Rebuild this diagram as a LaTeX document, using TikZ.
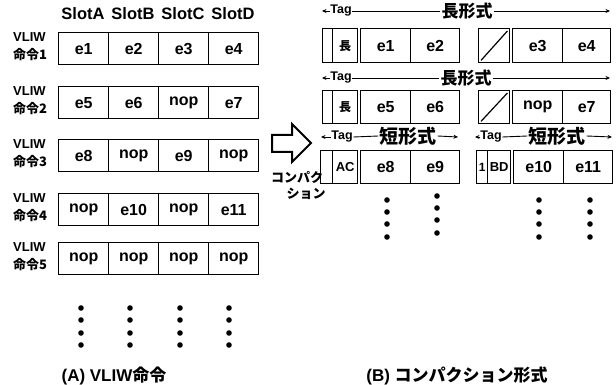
\documentclass[tikz,border=0pt]{standalone}
\usepackage{fontspec}
\setmainfont{Liberation Sans}
\newfontfamily\jp{Noto Sans CJK JP}
\usetikzlibrary{arrows.meta}
\tikzset{
  cellbox/.style={draw, line width=1.4pt, minimum height=#1, inner sep=0pt, anchor=north west,
    font=\fontsize{16}{16}\selectfont\bfseries},
  cellbox/.default=32pt,
  hdr/.style={font=\fontsize{16.5}{16.5}\selectfont\bfseries, inner sep=0pt},
  vl/.style={font=\fontsize{13}{13}\selectfont\bfseries, inner sep=0pt, anchor=west},
  jl/.style={font=\jp\fontsize{13}{13}\selectfont\bfseries, inner sep=0pt, anchor=west},
  taglab/.style={font=\fontsize{12.5}{12.5}\selectfont\bfseries, inner sep=0.5pt},
  fmtlab/.style={font=\jp\fontsize{17}{17}\selectfont\bfseries, inner sep=1pt},
  dimline/.style={line width=0.9pt},
  dimarrow/.style={line width=0.9pt, -{Stealth[length=4.5pt,width=4pt]}},
  dotm/.style={fill=black, circle, inner sep=0pt, minimum size=5.6pt},
  captxt/.style={font=\fontsize{17}{17}\selectfont\bfseries, inner sep=0pt},
}
\begin{document}
\begin{tikzpicture}[x=1pt,y=-1pt]
\useasboundingbox (0,0) rectangle (616,385);

% ---- Left: VLIW instructions ----
\foreach \s [count=\i from 0] in {SlotA,SlotB,SlotC,SlotD}
  \node[hdr] (h\i) at (83+50*\i,14) {\s};

\foreach \r/\t/\a/\b/\c/\d in {1/32/e1/e2/e3/e4, 2/86/e5/e6/nop/e7, 3/139/e8/nop/e9/nop, 4/193/nop/e10/nop/e11, 5/242/nop/nop/nop/nop}{
  \node[cellbox, minimum width=50pt] (L\r a) at (58,\t) {\a};
  \node[cellbox, minimum width=50pt] (L\r b) at (108,\t) {\b};
  \node[cellbox, minimum width=50pt] (L\r c) at (158,\t) {\c};
  \node[cellbox, minimum width=50pt] (L\r d) at (208,\t) {\d};
  \node[vl] (V\r) at (13,\t+5) {VLIW};
  \node[jl] (M\r) at (13,\t+23) {命令\r};
}

\foreach \x in {81,130,180,229}
  \foreach \y in {308,320,333,345}
    \node[dotm] at (\x,\y) {};

\node[captxt] (capA) at (114,376) {(A) VLIW{\jp 命令}};

% ---- Block arrow ----
\draw[line width=2pt, line join=miter] (272,135) -- (292,135) -- (292,124) -- (311,143) -- (292,162) -- (292,152) -- (272,152) -- cycle;
\node[jl, anchor=center] (cp1) at (297,177) {コンパク};
\node[jl, anchor=center] (cp2) at (306,194) {ション};

% ---- Right: compaction format ----
% Row 1
\node[cellbox=34pt, minimum width=10pt] (R1t0) at (322,28) {};
\node[cellbox=34pt, minimum width=25pt, font=\jp\fontsize{12}{12}\selectfont\bfseries] (R1t1) at (332,28) {長};
\node[cellbox=34pt, minimum width=50pt] (R1a) at (360,28) {e1};
\node[cellbox=34pt, minimum width=49pt] (R1b) at (410,28) {e2};
\node[cellbox=34pt, minimum width=31pt] (R1s) at (478,28) {};
\draw[line width=1.2pt] ([shift={(3pt,3pt)}]R1s.south west) -- ([shift={(-3pt,-3pt)}]R1s.north east);
\node[cellbox=34pt, minimum width=50pt] (R1c) at (512,28) {e3};
\node[cellbox=34pt, minimum width=48pt] (R1d) at (562,28) {e4};

\node[taglab] (T1) at (341,11) {Tag};
\node[fmtlab] (F1) at (467,11) {長形式};
\coordinate (T1l) at (322,11);
\coordinate (T1r) at (610,11);
\draw[dimarrow] (T1.west) -- (T1l);
\draw[dimline] (T1.east) -- (F1.west);
\draw[dimarrow] (F1.east) -- (T1r);

% Row 2
\node[cellbox=33pt, minimum width=10pt] (R2t0) at (322,90) {};
\node[cellbox=33pt, minimum width=25pt, font=\jp\fontsize{12}{12}\selectfont\bfseries] (R2t1) at (332,90) {長};
\node[cellbox=33pt, minimum width=50pt] (R2a) at (360,90) {e5};
\node[cellbox=33pt, minimum width=49pt] (R2b) at (410,90) {e6};
\node[cellbox=33pt, minimum width=31pt] (R2s) at (478,90) {};
\draw[line width=1.2pt] ([shift={(3pt,3pt)}]R2s.south west) -- ([shift={(-3pt,-3pt)}]R2s.north east);
\node[cellbox=33pt, minimum width=50pt] (R2c) at (512,90) {nop};
\node[cellbox=33pt, minimum width=48pt] (R2d) at (562,90) {e7};

\node[taglab] (T2) at (341,78) {Tag};
\node[fmtlab] (F2) at (466,78) {長形式};
\coordinate (T2l) at (322,78);
\coordinate (T2r) at (610,78);
\draw[dimarrow] (T2.west) -- (T2l);
\draw[dimline] (T2.east) -- (F2.west);
\draw[dimarrow] (F2.east) -- (T2r);

% Row 3 left
\node[cellbox=33pt, minimum width=12pt] (R3t0) at (320,150) {};
\node[cellbox=33pt, minimum width=25pt, font=\fontsize{13}{13}\selectfont\bfseries] (R3t1) at (332,150) {AC};
\node[cellbox=33pt, minimum width=50pt] (R3a) at (360,150) {e8};
\node[cellbox=33pt, minimum width=49pt] (R3b) at (410,150) {e9};

\node[taglab] (T3) at (342,137) {Tag};
\node[fmtlab, font=\jp\fontsize{19}{19}\selectfont\bfseries] (F3) at (408,136) {短形式};
\coordinate (T3l) at (321,137);
\coordinate (T3r) at (458,137);
\draw[dimarrow] (T3.west) -- (T3l);
\draw[dimline] (T3.east) -- (F3.west);
\draw[dimarrow] (F3.east) -- (T3r);

% Row 3 right
\node[cellbox=33pt, minimum width=11pt, font=\fontsize{12}{12}\selectfont\bfseries] (R3u0) at (476,150) {1};
\node[cellbox=33pt, minimum width=23pt, font=\fontsize{13}{13}\selectfont\bfseries] (R3u1) at (487,150) {BD};
\node[cellbox=33pt, minimum width=50pt] (R3c) at (513,150) {e10};
\node[cellbox=33pt, minimum width=49pt] (R3d) at (563,150) {e11};

\node[taglab] (T4) at (491,137) {Tag};
\node[fmtlab, font=\jp\fontsize{19}{19}\selectfont\bfseries] (F4) at (557,136) {短形式};
\coordinate (T4l) at (475,137);
\coordinate (T4r) at (612,137);
\draw[dimarrow] (T4.west) -- (T4l);
\draw[dimline] (T4.east) -- (F4.west);
\draw[dimarrow] (F4.east) -- (T4r);

% dots right
\foreach \x/\o in {387/0,437/-4,539/0,590/0}
  \foreach \y in {200,212,224,237}
    \node[dotm] at (\x,\y+\o) {};

\node[captxt] (capB) at (457,376) {(B) {\jp コンパクション形式}};
\end{tikzpicture}
\end{document}
